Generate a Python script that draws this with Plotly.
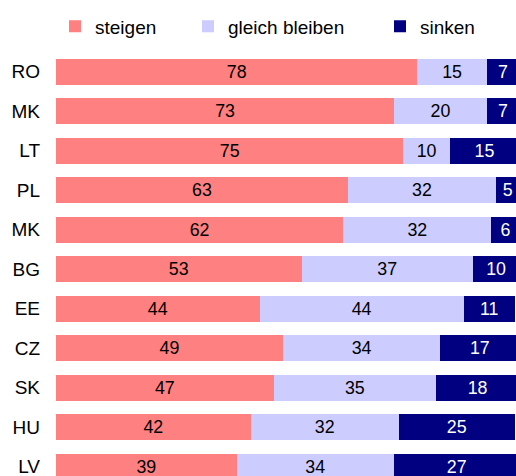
import plotly.graph_objects as go

countries = ["RO", "MK", "LT", "PL", "MK", "BG", "EE", "CZ", "SK", "HU", "LV"]
steigen = [78, 73, 75, 63, 62, 53, 44, 49, 47, 42, 39]
gleich = [15, 20, 10, 32, 32, 37, 44, 34, 35, 32, 34]
sinken = [7, 7, 15, 5, 6, 10, 11, 17, 18, 25, 27]

series = [
    ("steigen", steigen, "#FF8080", "#000000", "legend"),
    ("gleich bleiben", gleich, "#CCCCFF", "#000000", "legend2"),
    ("sinken", sinken, "#000080", "#FFFFFF", "legend3"),
]

pos = list(range(len(countries)))
fig = go.Figure()
for name, vals, color, tcol, lg in series:
    fig.add_trace(go.Bar(
        y=pos, x=vals, orientation="h", name=name, legend=lg,
        marker=dict(color=color, line=dict(width=0)),
        width=0.65,
        text=[str(v) for v in vals], textposition="inside",
        insidetextanchor="middle", textangle=0,
        insidetextfont=dict(color=tcol, size=19, family="Liberation Sans"),
        hoverinfo="skip",
    ))

ly = 1 - 26.5 / 476
def leg(xpx):
    return dict(orientation="h", xref="container", yref="container",
                x=(xpx - 19) / 516, xanchor="left", y=ly, yanchor="middle",
                font=dict(size=19), bgcolor="rgba(0,0,0,0)", borderwidth=0)

fig.update_layout(
    barmode="stack",
    width=516, height=476,
    margin=dict(l=56, r=0, t=36, b=0, autoexpand=False),
    plot_bgcolor="white", paper_bgcolor="white",
    font=dict(family="Liberation Sans", size=19, color="#000000"),
    showlegend=True,
    legend=leg(74), legend2=leg(207), legend3=leg(399),
    xaxis=dict(range=[0, 99.3], visible=False, fixedrange=True),
    yaxis=dict(range=[10.233, -0.906], tickmode="array", tickvals=pos, ticktext=countries,
               showgrid=False, zeroline=False, showline=False, ticks="",
               automargin=False, ticklabelstandoff=15, ticklabeloverflow="allow",
               tickfont=dict(size=19), fixedrange=True),
)
fig.write_html("out.html", config={"displayModeBar": False},
               post_script="document.body.style.margin='0';document.body.style.overflow='hidden';")
